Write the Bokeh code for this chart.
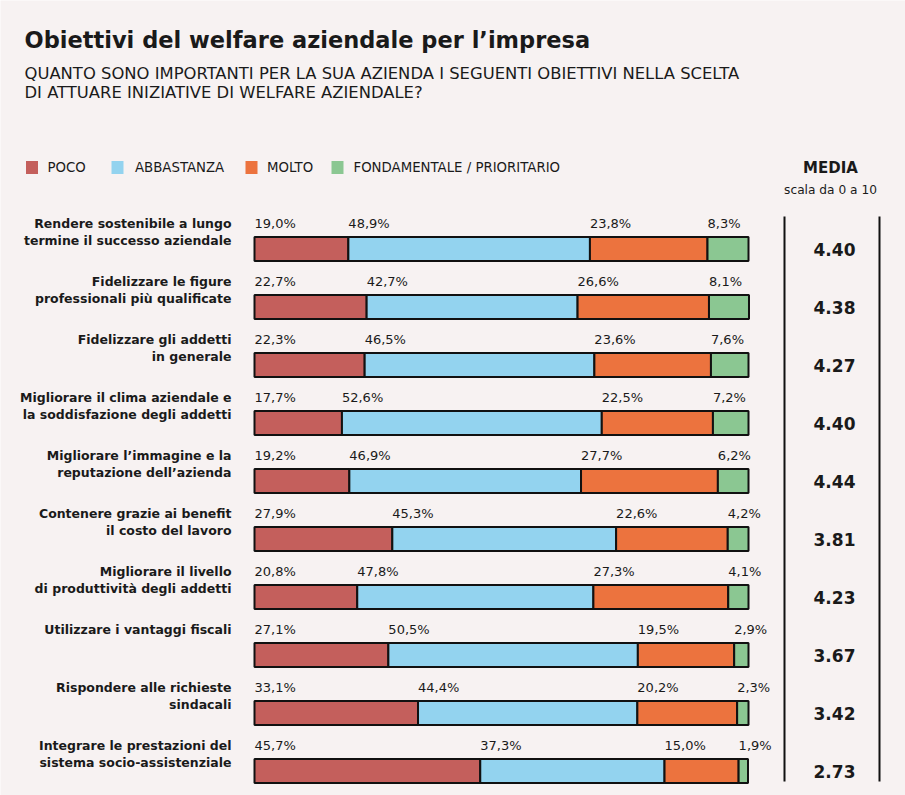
from bokeh.plotting import figure
from bokeh.models import Range1d
from bokeh.core.properties import value
from bokeh.embed import file_html
from bokeh.resources import INLINE

# ---------------- data ----------------
categories = [
    "Rendere sostenibile a lungo\ntermine il successo aziendale",
    "Fidelizzare le figure\nprofessionali più qualificate",
    "Fidelizzare gli addetti\nin generale",
    "Migliorare il clima aziendale e\nla soddisfazione degli addetti",
    "Migliorare l\u2019immagine e la\nreputazione dell\u2019azienda",
    "Contenere grazie ai benefit\nil costo del lavoro",
    "Migliorare il livello\ndi produttività degli addetti",
    "Utilizzare i vantaggi fiscali",
    "Rispondere alle richieste\nsindacali",
    "Integrare le prestazioni del\nsistema socio-assistenziale",
]
poco = [19.0, 22.7, 22.3, 17.7, 19.2, 27.9, 20.8, 27.1, 33.1, 45.7]
abbastanza = [48.9, 42.7, 46.5, 52.6, 46.9, 45.3, 47.8, 50.5, 44.4, 37.3]
molto = [23.8, 26.6, 23.6, 22.5, 27.7, 22.6, 27.3, 19.5, 20.2, 15.0]
fondamentale = [8.3, 8.1, 7.6, 7.2, 6.2, 4.2, 4.1, 2.9, 2.3, 1.9]
media = [4.40, 4.38, 4.27, 4.40, 4.44, 3.81, 4.23, 3.67, 3.42, 2.73]
series_names = ["POCO", "ABBASTANZA", "MOLTO", "FONDAMENTALE / PRIORITARIO"]
series_colors = ["#C45F5C", "#93D3EF", "#EC733E", "#8BC792"]

title_text = "Obiettivi del welfare aziendale per l\u2019impresa"
subtitle_lines = [
    "QUANTO SONO IMPORTANTI PER LA SUA AZIENDA I SEGUENTI OBIETTIVI NELLA SCELTA",
    "DI ATTUARE INIZIATIVE DI WELFARE AZIENDALE?",
]

# ---------------- layout ----------------
W, H = 905, 795
BG = "#F7F2F2"
INK = "#1A1A1A"
FONT = "DejaVu Sans"
X0, PXPCT = 254.0, 4.94     # pixel of 0 %, pixels per 1 %
Y0, ROW = 248.5, 58.0       # pixel of first bar centre, row spacing


def X(px):
    return (px - X0) / PXPCT


def Y(py):
    return (py - Y0) / ROW


p = figure(width=W, height=H, output_backend="svg", toolbar_location=None,
           x_range=Range1d(X(0), X(W)), y_range=Range1d(Y(H), Y(0)),
           min_border=0, x_axis_location=None, y_axis_location=None)
p.grid.visible = False
p.outline_line_color = None
p.background_fill_color = BG
p.border_fill_color = BG

n = len(categories)
rows = list(range(n))
series = [poco, abbastanza, molto, fondamentale]

# stacked bars + percentage labels
left = [0.0] * n
for vals, col in zip(series, series_colors):
    right = [l + v for l, v in zip(left, vals)]
    p.hbar(y=rows, left=left, right=right, height=24 / ROW,
           fill_color=col, line_color="#111111", line_width=2)
    p.text(x=left, y=[r - 26 / ROW for r in rows],
           text=[f"{v:.1f}".replace(".", ",") + "%" for v in vals],
           text_font=value(FONT), text_font_size="13px",
           text_color=INK, text_align="left", text_baseline="middle")
    left = right

# category labels (two lines)
line1 = [c.split("\n")[0] for c in categories]
line2 = [c.split("\n")[1] if "\n" in c else "" for c in categories]
for txt, off in ((line1, -25.5), (line2, -8.5)):
    p.text(x=[X(231)] * n, y=[r + off / ROW for r in rows], text=txt,
           text_font=value(FONT), text_font_style="bold", text_font_size="12.5px",
           text_color=INK, text_align="right", text_baseline="middle")

# media values
p.text(x=[X(834)] * n, y=rows, text=[f"{m:.2f}" for m in media],
       text_font=value(FONT), text_font_style="bold", text_font_size="17px",
       text_color=INK, text_align="center", text_baseline="middle")

# vertical rules around media column
p.segment(x0=[X(784), X(879)], y0=[Y(216)] * 2, x1=[X(784), X(879)], y1=[Y(781)] * 2,
          line_color="#111111", line_width=2)

# title / subtitle
p.text(x=[X(24)], y=[Y(39)], text=[title_text], text_font=value(FONT),
       text_font_style="bold", text_font_size="22.5px", text_color=INK,
       text_align="left", text_baseline="middle")
p.text(x=[X(24)] * 2, y=[Y(73), Y(92)], text=subtitle_lines, text_font=value(FONT),
       text_font_size="16.4px", text_color=INK, text_align="left", text_baseline="middle")

# legend
sq_x = [31.5, 117, 251, 337]
tx_x = [47, 134.5, 266.5, 353]
p.rect(x=[X(v) for v in sq_x], y=[Y(167)] * 4, width=12 / PXPCT, height=13 / ROW,
       fill_color=series_colors, line_color=None)
p.text(x=[X(v) for v in tx_x], y=[Y(167)] * 4, text=series_names,
       text_font=value(FONT), text_font_size="13.3px", text_color=INK,
       text_align="left", text_baseline="middle")

p.text(x=[X(830)], y=[Y(167)], text=["MEDIA"], text_font=value(FONT),
       text_font_style="bold", text_font_size="15px", text_color=INK,
       text_align="center", text_baseline="middle")
p.text(x=[X(830)], y=[Y(189)], text=["scala da 0 a 10"], text_font=value(FONT),
       text_font_size="12.2px", text_color=INK, text_align="center", text_baseline="middle")

open("out.html", "w").write(file_html(p, INLINE))
